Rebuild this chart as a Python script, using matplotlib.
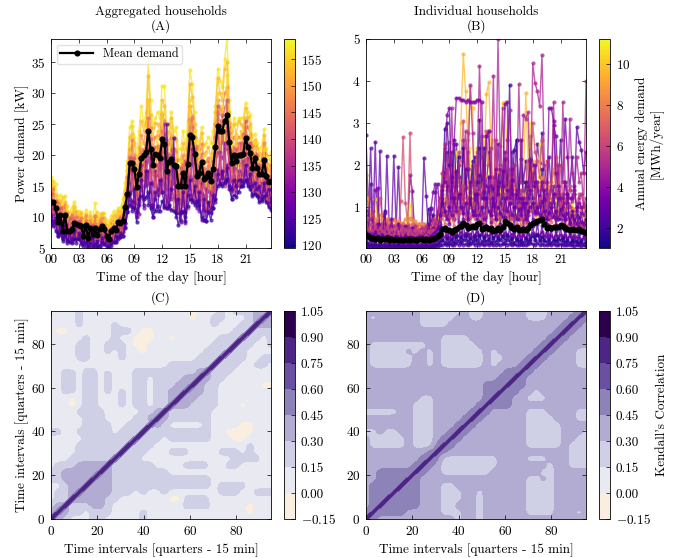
import numpy as np
import matplotlib
matplotlib.use('Agg')
import matplotlib.pyplot as plt
from matplotlib.cm import ScalarMappable
from matplotlib.colors import Normalize

plt.rcParams['font.family'] = ['cmr10', 'DejaVu Serif']
plt.rcParams['mathtext.fontset'] = 'cm'
plt.rcParams['axes.formatter.use_mathtext'] = True
plt.rcParams['axes.unicode_minus'] = False
plt.rcParams['font.size'] = 9.5

hour_labels = ['00', '03', '06', '09', '12', '15', '18', '21']

# panel A, one row = 3 hours
agg_mean = [12.5, 12.5, 11.5, 9.2, 10.4, 7.8, 10.4, 7.8, 7.7, 8.0, 9.1, 8.9,
            8.7, 8.6, 7.0, 8.7, 6.6, 8.2, 7.3, 8.2, 7.1, 8.0, 8.6, 8.0,
            7.0, 6.5, 7.8, 8.3, 7.9, 9.2, 9.0, 9.4, 11.7, 13.8, 18.8, 18.7,
            17.8, 14.9, 17.0, 19.6, 20.0, 20.5, 24.0, 21.0, 18.4, 20.2, 20.0, 19.6,
            22.6, 21.8, 17.5, 18.9, 19.4, 18.5, 18.2, 15.1, 15.1, 17.2, 15.1, 18.6,
            23.2, 22.9, 20.2, 16.7, 17.2, 18.9, 16.2, 16.5, 17.1, 15.8, 17.8, 21.4,
            24.7, 23.9, 23.9, 25.6, 26.5, 22.1, 18.8, 20.0, 19.0, 20.0, 20.1, 20.2,
            22.8, 21.4, 20.3, 18.0, 19.5, 18.0, 17.0, 17.0, 19.2, 16.7, 15.6, 15.8]
agg_157 = [16.5, 15.6, 15.4, 13.0, 13.6, 11.5, 13.4, 11.0, 10.8, 11.5, 12.5, 11.0,
           11.0, 10.8, 9.5, 11.2, 9.4, 10.8, 9.8, 12.2, 9.5, 10.5, 10.2, 10.6,
           9.5, 9.0, 10.2, 11.0, 10.4, 11.4, 11.5, 13.0, 15.5, 19.0, 24.5, 25.5,
           23.0, 20.0, 24.0, 28.0, 25.0, 27.0, 35.0, 29.0, 24.5, 26.0, 27.0, 26.0,
           31.2, 31.2, 24.0, 25.0, 27.0, 24.0, 24.5, 21.0, 21.0, 24.0, 21.0, 25.5,
           33.8, 31.5, 27.0, 22.5, 22.0, 24.5, 21.5, 22.0, 23.0, 22.0, 24.0, 28.0,
           34.0, 32.0, 31.0, 35.5, 38.9, 29.0, 24.0, 26.0, 25.0, 26.0, 26.0, 26.0,
           28.5, 27.0, 26.5, 23.0, 23.5, 22.0, 21.0, 21.5, 24.2, 21.0, 19.5, 20.5]
agg_155 = [14.8, 15.8, 12.0, 12.8, 10.4, 13.2, 9.0, 11.8, 8.8, 10.6, 11.8, 8.9,
           9.0, 10.0, 9.4, 8.6, 9.2, 7.4, 9.9, 8.0, 10.8, 7.8, 8.6, 9.3,
           7.6, 8.8, 7.4, 9.8, 8.2, 10.6, 9.0, 12.0, 13.0, 18.4, 19.0, 24.8,
           17.0, 18.0, 14.0, 22.0, 16.0, 22.8, 29.0, 18.0, 20.0, 17.5, 24.0, 17.0,
           27.0, 16.0, 21.0, 15.5, 24.5, 17.0, 20.0, 14.0, 19.0, 15.0, 18.0, 16.5,
           29.0, 19.0, 24.0, 15.0, 20.5, 16.0, 20.0, 14.5, 19.0, 14.0, 22.0, 18.5,
           30.0, 21.0, 28.0, 22.0, 33.0, 20.0, 22.0, 18.0, 23.0, 18.5, 24.0, 19.0,
           26.0, 18.0, 24.5, 17.0, 22.0, 16.0, 20.0, 15.5, 21.0, 15.0, 18.5, 14.5]
agg_153 = [15.2, 14.8, 13.6, 11.8, 12.6, 10.2, 12.4, 10.2, 10.0, 10.4, 11.6, 10.8,
           10.4, 10.6, 8.9, 10.5, 8.7, 10.2, 9.3, 10.4, 8.9, 9.8, 10.6, 9.9,
           8.8, 8.3, 9.6, 10.3, 9.6, 11.0, 10.8, 11.8, 14.2, 17.6, 23.0, 23.4,
           22.0, 18.2, 21.4, 25.5, 24.0, 25.4, 32.8, 26.5, 22.8, 25.2, 25.0, 24.0,
           29.0, 28.0, 22.0, 23.8, 26.0, 23.0, 22.5, 19.2, 19.5, 22.0, 19.0, 23.4,
           31.6, 29.5, 25.0, 21.0, 21.0, 23.6, 20.0, 20.6, 21.4, 19.6, 22.0, 27.0,
           32.5, 30.0, 29.0, 34.0, 35.0, 27.0, 22.8, 25.0, 23.5, 25.5, 25.0, 24.5,
           27.6, 26.2, 25.0, 22.0, 22.5, 21.2, 20.4, 20.0, 23.2, 20.0, 18.2, 19.2]
agg_148 = [14.0, 13.8, 12.6, 10.9, 11.8, 9.4, 11.9, 9.3, 9.1, 9.6, 10.8, 10.2,
           9.9, 9.8, 8.3, 10.1, 7.9, 9.5, 8.6, 9.7, 8.3, 9.3, 9.9, 9.2,
           8.1, 7.6, 8.9, 9.5, 8.9, 10.2, 10.2, 10.8, 13.2, 15.8, 21.0, 21.5,
           20.0, 16.8, 19.6, 23.2, 22.0, 24.0, 29.0, 24.4, 21.0, 23.0, 23.2, 22.8,
           26.6, 25.6, 20.4, 21.8, 23.2, 21.0, 20.6, 17.6, 17.8, 20.0, 17.4, 21.4,
           28.0, 26.4, 23.0, 19.4, 19.6, 21.8, 18.8, 19.0, 19.6, 18.2, 20.4, 25.0,
           29.0, 27.5, 27.0, 30.0, 31.0, 25.2, 21.2, 23.0, 21.8, 23.0, 23.0, 23.4,
           26.0, 24.6, 23.4, 20.4, 21.6, 20.0, 19.0, 19.0, 22.0, 18.8, 17.4, 17.8]
agg_146 = [12.0, 14.6, 10.0, 12.2, 8.4, 11.6, 8.0, 10.6, 7.4, 10.4, 8.4, 10.0,
           7.8, 9.8, 6.8, 9.4, 6.6, 9.0, 7.0, 10.2, 6.6, 9.0, 7.2, 8.8,
           6.6, 7.4, 6.6, 8.4, 7.4, 9.4, 8.0, 10.4, 10.2, 16.5, 16.0, 22.4,
           15.0, 16.5, 13.0, 20.5, 15.0, 20.5, 26.0, 15.5, 17.5, 15.0, 21.5, 15.5,
           24.0, 14.0, 22.5, 13.5, 19.0, 21.0, 13.5, 17.0, 12.5, 18.5, 12.0, 21.0,
           14.5, 26.0, 15.0, 21.5, 13.5, 17.0, 18.0, 12.5, 19.0, 12.5, 16.0, 14.5,
           27.0, 17.5, 25.0, 18.0, 24.0, 24.5, 16.5, 21.0, 15.5, 22.0, 16.0, 23.5,
           17.0, 23.0, 16.0, 21.5, 16.0, 20.0, 14.5, 19.5, 15.0, 18.0, 13.0, 18.5]
agg_143 = [13.2, 12.6, 11.8, 9.8, 11.0, 8.4, 10.9, 8.4, 8.3, 8.8, 9.9, 9.4,
           9.2, 9.2, 7.5, 9.3, 7.1, 8.8, 7.9, 8.9, 7.6, 8.6, 9.2, 8.6,
           7.5, 7.0, 8.3, 8.9, 8.4, 9.7, 9.5, 10.0, 12.2, 14.6, 19.8, 19.6,
           18.6, 15.8, 18.0, 21.0, 20.8, 21.6, 26.0, 22.6, 19.4, 21.4, 21.2, 20.8,
           24.6, 23.4, 18.6, 20.0, 21.0, 19.6, 19.2, 16.2, 16.2, 18.6, 16.0, 20.0,
           25.6, 24.6, 21.4, 17.8, 18.2, 20.2, 17.2, 17.6, 18.2, 16.8, 18.8, 23.0,
           26.6, 25.6, 25.2, 27.8, 28.6, 23.6, 19.8, 21.4, 20.2, 21.4, 21.4, 21.6,
           24.6, 22.8, 21.6, 19.2, 20.4, 18.8, 18.0, 18.0, 20.4, 17.6, 16.4, 16.8]
agg_141 = [13.8, 10.8, 12.6, 8.6, 11.4, 7.6, 9.4, 7.0, 9.8, 7.2, 9.4, 7.0,
           9.4, 6.8, 8.6, 6.4, 8.2, 6.2, 8.8, 6.6, 8.4, 6.4, 8.6, 6.4,
           7.8, 5.8, 8.0, 6.6, 8.2, 7.4, 9.8, 7.8, 11.0, 12.5, 19.5, 14.5,
           19.5, 12.5, 17.0, 14.5, 19.5, 15.5, 23.0, 14.0, 21.0, 13.5, 18.5, 14.0,
           20.5, 11.5, 19.0, 12.0, 20.0, 11.5, 18.5, 11.0, 18.0, 12.0, 19.0, 11.5,
           22.0, 13.0, 21.0, 12.0, 18.5, 12.5, 17.0, 11.5, 16.5, 11.0, 19.0, 13.0,
           28.0, 15.5, 26.5, 15.0, 29.0, 16.0, 20.5, 14.5, 21.0, 15.0, 22.0, 15.5,
           25.5, 15.5, 22.0, 14.5, 20.0, 14.0, 18.5, 13.5, 18.0, 12.8, 16.5, 11.5]
agg_139 = [12.0, 11.4, 10.6, 8.7, 9.9, 7.4, 9.9, 7.4, 7.2, 7.6, 8.6, 8.4,
           8.3, 8.1, 6.6, 8.2, 6.2, 7.8, 6.9, 7.8, 6.7, 7.6, 8.2, 7.6,
           6.6, 6.1, 7.4, 7.9, 7.5, 8.8, 8.5, 8.9, 10.8, 12.6, 17.4, 17.2,
           16.4, 13.6, 15.6, 18.2, 18.4, 18.8, 22.0, 19.4, 17.0, 18.6, 18.4, 18.0,
           20.8, 20.2, 16.2, 17.4, 17.6, 17.0, 16.8, 13.8, 13.6, 15.8, 13.6, 17.0,
           21.6, 21.0, 18.8, 15.4, 15.6, 17.4, 14.8, 15.0, 15.6, 14.4, 16.4, 19.8,
           23.0, 22.0, 22.2, 23.8, 24.6, 20.4, 17.4, 18.4, 17.6, 18.6, 18.6, 18.6,
           21.0, 19.8, 18.8, 16.6, 18.0, 16.6, 15.6, 15.6, 17.8, 15.4, 14.4, 14.4]
agg_134 = [11.2, 10.6, 9.6, 8.0, 9.0, 7.0, 9.1, 6.9, 6.7, 7.1, 8.0, 7.7,
           7.6, 7.4, 6.0, 7.4, 5.8, 7.2, 6.4, 7.1, 6.1, 7.0, 7.6, 7.0,
           6.2, 5.6, 6.8, 7.3, 6.9, 8.0, 7.8, 8.3, 9.8, 11.6, 15.6, 14.6,
           14.2, 12.2, 14.0, 16.4, 16.8, 17.0, 20.0, 17.4, 15.2, 16.6, 16.8, 16.4,
           18.8, 25.0, 14.6, 15.8, 22.8, 15.4, 15.0, 12.6, 12.2, 14.4, 12.4, 15.4,
           25.8, 19.0, 16.8, 14.0, 14.2, 15.6, 13.4, 13.4, 14.2, 13.0, 14.8, 18.0,
           20.6, 19.8, 19.6, 21.0, 22.0, 18.2, 15.8, 16.6, 15.8, 16.8, 17.0, 17.0,
           19.4, 18.0, 17.0, 15.2, 16.0, 15.0, 14.2, 14.2, 16.0, 14.0, 13.0, 13.0]
agg_131 = [8.8, 12.0, 9.0, 10.0, 7.6, 9.4, 7.0, 8.8, 6.6, 8.4, 6.4, 8.0,
           6.4, 8.0, 5.8, 8.0, 5.6, 7.8, 5.4, 7.6, 5.2, 7.2, 5.6, 7.0,
           5.8, 6.6, 5.4, 7.4, 6.0, 8.2, 6.8, 8.6, 9.0, 13.4, 12.5, 18.0,
           12.0, 15.0, 10.5, 18.5, 11.5, 19.0, 15.5, 19.5, 12.0, 17.5, 13.5, 20.5,
           14.0, 19.5, 11.5, 17.0, 13.0, 18.0, 11.0, 15.5, 9.5, 15.5, 9.0, 16.5,
           13.5, 21.0, 12.5, 17.5, 11.0, 15.5, 9.6, 14.5, 11.0, 14.0, 11.5, 17.0,
           16.0, 20.5, 15.5, 22.0, 16.0, 21.0, 13.0, 18.0, 14.0, 17.5, 15.0, 19.0,
           16.0, 19.5, 15.0, 17.5, 14.0, 16.5, 13.0, 15.5, 14.5, 16.0, 12.0, 14.5]
agg_128 = [10.2, 9.6, 8.8, 7.2, 8.2, 6.4, 8.2, 6.4, 6.2, 6.5, 7.4, 7.0,
           7.0, 6.8, 5.6, 6.9, 5.4, 6.6, 5.9, 6.6, 5.7, 6.4, 7.0, 6.4,
           5.7, 5.3, 6.2, 6.7, 6.4, 7.4, 7.2, 7.6, 9.0, 10.8, 13.8, 12.6,
           12.4, 10.8, 12.4, 14.4, 15.0, 15.2, 17.4, 12.0, 11.4, 13.0, 14.6, 14.0,
           16.0, 15.4, 12.4, 13.6, 14.6, 13.2, 12.8, 10.6, 10.6, 12.6, 10.8, 13.4,
           16.6, 16.2, 14.4, 12.6, 12.8, 13.8, 11.2, 11.2, 12.2, 11.6, 13.0, 15.4,
           17.6, 17.2, 16.4, 17.6, 18.4, 16.0, 14.2, 15.0, 14.4, 15.2, 15.6, 15.6,
           17.4, 16.2, 15.4, 13.8, 14.6, 13.6, 13.2, 13.0, 14.4, 13.0, 12.2, 11.8]
agg_125 = [10.4, 8.6, 9.8, 7.0, 8.6, 6.6, 8.6, 5.8, 7.6, 5.8, 7.8, 5.8,
           7.4, 5.6, 6.8, 5.4, 6.8, 5.2, 6.8, 5.4, 6.2, 5.2, 6.6, 5.6,
           6.4, 5.4, 6.2, 6.0, 7.0, 6.4, 7.4, 7.0, 8.4, 11.0, 14.0, 11.0,
           14.5, 10.0, 12.0, 16.0, 12.0, 17.5, 12.0, 15.5, 10.0, 14.0, 11.0, 16.0,
           14.0, 12.0, 25.0, 11.5, 14.5, 22.8, 10.0, 13.0, 9.2, 14.0, 10.0, 13.5,
           16.0, 12.5, 15.0, 11.5, 14.0, 9.5, 13.0, 9.4, 12.5, 10.6, 13.5, 12.5,
           17.0, 15.5, 17.5, 15.5, 18.0, 15.0, 14.5, 16.0, 15.0, 16.0, 16.0, 15.5,
           18.5, 15.5, 17.0, 15.0, 15.5, 14.5, 15.0, 13.0, 15.5, 13.5, 14.5, 12.5]
agg_122 = [9.4, 9.0, 7.8, 7.0, 7.4, 6.2, 7.2, 6.2, 6.0, 6.0, 6.4, 6.4,
           6.4, 6.0, 5.4, 6.0, 5.2, 5.8, 5.4, 5.6, 5.2, 5.4, 6.0, 5.6,
           5.2, 5.0, 5.6, 5.9, 6.0, 6.8, 6.8, 7.0, 8.2, 10.8, 12.0, 11.6,
           11.4, 9.2, 13.0, 13.4, 13.0, 13.2, 14.0, 11.4, 10.0, 11.0, 11.8, 11.0,
           12.6, 11.6, 11.4, 12.0, 11.2, 11.0, 10.6, 8.7, 10.8, 11.0, 9.4, 11.8,
           13.0, 12.8, 12.0, 12.6, 12.0, 10.0, 9.5, 9.4, 10.8, 9.6, 11.4, 13.0,
           15.0, 15.4, 15.0, 15.6, 16.2, 14.6, 13.0, 13.6, 13.2, 14.0, 15.0, 15.0,
           16.0, 15.0, 14.6, 13.4, 13.8, 13.4, 12.4, 12.6, 13.4, 12.4, 11.6, 11.2]
agg_values = [agg_157, agg_153, agg_148, agg_143, agg_139, agg_128, agg_134,
              agg_155, agg_146, agg_131, agg_141, agg_122, agg_125]
agg_energy = [157, 153, 148, 143, 139, 128, 134, 155, 146, 131, 141, 122, 125]

# panel B, one row = 3 hours
ind_mean = [.32, .30, .27, .26, .24, .26, .22, .24, .23, .25, .22, .24,
            .21, .23, .20, .22, .21, .22, .23, .21, .24, .22, .21, .23,
            .24, .22, .23, .22, .24, .23, .26, .30, .36, .48, .50, .46,
            .44, .40, .44, .48, .52, .55, .62, .56, .50, .52, .55, .53,
            .58, .62, .48, .50, .52, .48, .50, .42, .44, .50, .46, .52,
            .66, .62, .56, .50, .48, .52, .44, .46, .48, .44, .50, .56,
            .62, .64, .66, .68, .70, .60, .50, .52, .50, .52, .52, .53,
            .56, .54, .50, .48, .46, .48, .44, .44, .48, .42, .40, .38]
ind_plateau = [.50, .40, .30, .30, 1.40, 1.45, .40, .30, .30, .25, .30, .40,
               .30, .30, .30, .25, .30, .30, .20, .30, .30, .20, .30, .30,
               .30, .40, .30, .30, .95, 1.35, 1.55, .50, .60, 1.50, 1.60, 3.20,
               3.35, 1.20, 2.50, 3.60, 3.60, 3.55, 3.55, 3.50, 3.55, 3.50, 3.50, 3.50,
               3.55, 3.55, 3.50, 1.20, 2.70, 2.80, 1.50, 1.00, 1.90, 1.30, 1.90, 1.50,
               3.45, 3.50, 1.20, 1.90, 1.00, 1.40, 1.20, .90, 1.20, .80, 1.50, 2.10,
               1.50, 2.00, 1.40, 1.10, 1.60, 1.20, .90, 3.35, 3.35, 3.05, 1.80, 1.50,
               1.20, 1.00, 1.60, 1.30, 1.20, 1.20, 1.50, .90, 1.10, 1.00, .80, .90]
ind_peak = [.60, .50, .40, .50, .40, .50, .60, .40, .50, .40, .30, .50,
            .40, .40, .50, .40, .40, .50, .40, .30, .40, .40, .30, .40,
            .30, .40, .30, .40, .30, .50, .60, .90, 1.20, 1.80, 2.50, 1.60,
            1.00, 3.35, 1.50, 1.00, 2.00, 1.40, 1.20, 2.80, 1.90, 3.90, 2.75, 1.20,
            2.00, 4.36, 2.20, 1.40, 2.70, 2.80, 1.50, 4.13, 1.30, 5.00, 2.00, 3.35,
            1.50, 2.60, 3.30, 1.40, 2.00, 1.20, 3.92, 1.60, 3.20, 3.10, 3.25, 1.30,
            4.42, 3.95, 3.75, 3.40, 4.62, 2.00, 1.60, 1.10, 1.40, 3.50, 1.30, 2.00,
            1.00, 3.50, 1.50, 1.20, 3.10, 1.80, 1.40, 2.20, 1.60, 1.80, 1.00, 4.00]
ind_night = [2.72, .80, 2.40, .50, 2.55, .40, 2.32, .50, .30, 2.22, .60, .40,
             2.22, .50, 1.95, .30, .40, .30, .50, 1.75, 1.38, .40, .30, .30,
             .20, 2.17, 1.27, .40, .98, .60, 1.35, 1.55, .50, 1.20, 1.80, 2.30,
             1.40, 2.30, 1.20, 2.50, 1.70, 1.10, 2.60, 1.60, 2.30, 1.00, 1.60, 2.20,
             1.10, 2.40, 1.30, 2.00, 1.50, 2.30, 1.20, 1.70, 1.00, 2.50, 1.60, 1.20,
             2.30, 1.60, 1.10, 2.30, 1.50, 2.60, 1.30, 2.15, 1.60, 2.10, 1.20, 2.70,
             2.00, 1.50, 2.50, 2.05, 2.75, 1.60, 1.30, 2.20, 1.40, 2.95, 2.70, 1.50,
             2.60, 1.60, 3.10, 2.20, 1.40, 2.20, 1.30, 2.90, 2.55, 2.35, 1.80, 2.30]
ind_navy = [.30, .25, .20, .18, .20, .30, .20, .25, .90, .40, .30, .25,
            .20, .30, .25, .20, .25, .35, .20, .25, .30, .20, .25, .30,
            .20, .40, .30, .95, .60, .80, .50, .30, .40, .85, 2.85, 3.00,
            2.00, 1.60, 2.60, 1.50, 2.20, 1.00, 2.40, 1.50, 1.90, 1.10, 2.10, .90,
            1.60, 3.08, 1.20, 2.40, 1.00, 1.70, .80, 1.45, .70, 1.80, 1.10, .95,
            2.15, 1.30, 3.90, 1.30, 2.35, 2.60, 1.10, 2.60, 1.00, 1.60, .80, 2.15,
            1.20, .90, 1.60, 1.00, 1.90, .80, 1.30, .70, 1.00, 1.50, .70, 1.30,
            .90, 1.20, .70, 1.10, .60, .90, .60, .80, .50, .60, .50, .60]
ind_red = [1.75, 1.20, .70, .90, .60, .70, 1.20, .80, .60, .70, .50, .60,
           .70, .60, .50, 1.15, 2.67, 1.10, .60, 2.77, .70, .60, .50, .60,
           .50, .60, .55, .50, .70, .60, .50, .80, 1.20, 1.50, 2.40, 1.40,
           2.55, 1.10, 1.80, 1.30, 2.30, 2.10, 3.05, 1.60, 2.75, 1.50, 2.00, 1.20,
           2.30, 1.60, 2.70, 1.20, 2.80, 2.00, 2.40, 1.20, 2.60, 1.50, 2.45, 1.80,
           2.20, 1.50, 1.90, 1.30, 2.00, 1.40, 1.60, 1.80, 1.30, 1.50, 2.10, 1.70,
           3.00, 2.30, 2.10, 1.70, 2.60, 1.40, 2.10, 1.20, 1.60, 1.80, 2.20, 1.50,
           2.00, 1.30, 1.60, 1.10, 1.50, 1.20, 1.40, 1.00, 1.30, .90, 1.10, .90]
ind_orange = [1.22, 1.20, .80, .75, .70, .72, .80, .72, .65, .70, .62, .66,
              .68, .60, .66, .62, .62, .70, .66, .74, .68, .66, .60, .58,
              .62, .56, .54, .52, .60, .56, .74, .80, 1.20, 1.45, 1.10, .70,
              .80, .90, 1.10, 1.55, 1.30, 1.20, 1.40, 1.25, 1.60, 1.30, 1.10, 1.45,
              1.20, 1.30, 1.40, 1.60, 1.75, 1.55, 1.30, 1.20, 1.50, 1.85, 1.80, 1.60,
              1.45, 1.30, 1.60, 1.70, 1.45, 1.30, 1.20, 1.10, 1.30, 1.05, 1.40, 1.80,
              1.90, 1.55, 1.35, 1.50, 1.70, 1.40, 1.20, 1.35, 1.50, 1.90, 1.40, 1.20,
              1.30, 1.15, 1.10, 1.05, 1.00, .98, .95, .98, 1.00, .95, .98, .95]
ind_yellow = [.50, .46, .72, .80, 1.18, .62, .55, .50, .60, .55, .50, .46,
              .48, .50, .46, .42, .50, .46, .80, 1.05, .60, .52, .48, .46,
              .44, .48, .42, .50, .55, .60, .80, .70, .90, 1.75, 1.50, 1.20,
              .90, .75, 1.60, 2.30, 2.05, .85, 1.80, 1.20, 1.00, 2.40, .80, 1.70,
              .75, .90, 1.55, 1.20, 2.40, 2.10, .80, 1.00, .70, .65, 1.35, .70,
              1.50, .60, .70, 1.55, .80, .55, .75, .60, .80, .70, 2.45, 3.00,
              1.10, .90, .70, 2.50, .65, 1.50, 1.20, 1.55, .90, 1.10, .85, 1.60,
              1.00, .80, 1.20, 1.10, .75, 1.10, .85, .80, .75, .85, .75, .80]
ind_gold = [.55, .50, .45, .50, .45, .40, .42, .40, .38, .36, .40, .36,
            .38, .36, .35, .34, .36, .35, .38, .36, .40, .36, .35, .33,
            .36, .32, .34, .36, .40, .42, .50, .60, .70, 1.20, 1.70, 1.20,
            1.00, 1.50, 1.30, 1.10, 2.00, 3.00, 4.65, 3.75, 2.60, 3.85, 3.35, 1.50,
            2.40, 1.30, 1.70, 2.10, 3.68, 3.97, 2.40, 2.60, 1.30, 1.60, 1.20, 3.48,
            3.50, 2.10, 1.30, 1.50, 1.70, 1.20, 1.40, 1.00, 1.60, 3.72, 2.00, 1.30,
            2.10, 1.50, 1.00, 1.40, 1.70, 1.10, .90, 1.20, 1.00, 1.30, .90, .85,
            1.10, .80, .90, 1.10, .80, .70, .90, .80, .70, .60, .70, .65]
ind_magenta = [.70, .60, .70, .50, .55, .60, .50, .45, .60, .50, .55, .50,
               .55, .45, .50, .55, .45, .50, .55, .45, .50, .55, .40, .45,
               .50, .45, .55, .40, .45, .70, .60, .85, 1.00, 1.30, 1.60, 1.90,
               1.40, 1.10, 1.30, 1.60, 1.20, 1.50, 1.20, 1.45, 1.10, 1.35, 1.60, 1.20,
               1.40, 1.00, 1.30, 1.60, 1.10, 1.40, 1.20, .90, 1.25, 1.50, 1.10, 1.30,
               1.60, 1.20, 1.40, 1.10, 1.30, 1.00, 1.20, 1.40, .95, 1.20, 1.40, 1.60,
               1.80, 1.40, 1.60, 1.20, 1.50, 1.30, 1.10, 1.30, 1.50, 1.10, 1.25, 1.40,
               1.05, 1.30, 1.10, 1.25, 1.00, 1.15, 1.30, 1.00, 1.20, 1.30, 1.05, 1.20]
ind_pink = [.70, .45, .60, .40, .55, .38, .50, .42, .36, .52, .38, .48,
            .34, .50, .36, .46, .32, .48, .36, .44, .34, .46, .30, .44,
            .32, .44, .30, .42, .34, .46, .40, .62, .70, .95, .80, 1.15,
            .75, 1.05, .70, 1.30, .85, .95, 1.50, .80, 1.20, .75, .95, 1.10,
            .80, 1.35, .70, 1.10, .85, 1.25, .70, .95, .80, 1.20, .75, 1.00,
            1.30, .85, 1.15, .70, .95, .75, 1.05, .70, .90, .65, 1.00, 1.15,
            .95, 1.40, 1.00, 1.20, .95, .80, 1.10, .75, 1.00, .80, .95, .75,
            1.10, .80, .95, .70, .85, .70, .80, .60, .75, .55, .65, .50]
ind_salmon = [.62, .70, .55, .62, .50, .66, .48, .60, .52, .66, .50, .60,
              .55, .48, .60, .44, .58, .42, .56, .46, .60, .44, .55, .42,
              .52, .40, .50, .38, .48, .42, .55, .50, .70, .80, .60, .90,
              .65, .75, .55, .85, .60, .95, 1.15, .70, .85, .60, .80, .70,
              .95, .65, .85, .60, .75, .90, .60, .70, .55, .85, .60, .80,
              1.00, .75, .85, .55, .70, .60, .75, .55, .70, .50, .80, .90,
              1.05, .80, 1.00, .75, .85, .70, .60, .75, .65, .80, .60, .70,
              .85, .65, .70, .55, .65, .55, .60, .50, .60, .45, .55, .45]
ind_violet = [.90, .30, 1.55, .25, .35, .60, .25, .30, .85, .30, .25, .70,
              .30, .25, .60, .25, .30, .55, .20, .30, .50, .25, .20, .30,
              .25, .45, .20, .60, .30, .50, .30, .45, .55, 1.40, .80, 1.50,
              .60, 1.70, .70, 1.85, .65, 1.30, .70, 1.90, .55, 1.60, .80, 1.30,
              .70, 1.75, .60, 1.35, .55, 1.70, .65, 1.20, .80, 1.50, .60, 1.85,
              .75, 1.40, .60, 1.65, .55, 1.30, .70, 1.20, .50, 1.10, .65, 1.40,
              .70, 1.60, .85, 1.25, .70, 1.40, .60, 1.10, .75, 1.30, .55, 1.20,
              .70, 1.10, .55, 1.30, .60, .90, .50, 1.00, .55, .85, .45, .70]
ind_purple = [.40, .30, .36, .28, .40, .30, .26, .34, .24, .30, .22, .28,
              .24, .30, .20, .26, .22, .30, .22, .28, .24, .20, .28, .24,
              .30, .22, .26, .24, .30, .36, .40, .50, .80, 1.10, .90, .70,
              1.00, .80, 1.20, .90, 1.30, 1.00, .85, 1.10, .70, 1.20, .90, .80,
              1.30, .80, 1.00, .70, 1.20, .90, .80, 1.10, .70, 1.00, .85, .75,
              1.20, .90, 1.10, .80, 1.00, .70, .95, .80, 1.10, .70, .90, 1.00,
              1.10, .85, 1.00, .80, 1.15, .90, .70, .85, 1.00, .75, .90, .70,
              .95, .80, .70, .85, .65, .80, .70, .60, .75, .65, .60, .70]
ind_low = [.18, .14, .12, .10, .14, .10, .12, .08, .12, .10, .08, .12,
           .10, .08, .10, .12, .08, .10, .12, .08, .10, .12, .08, .10,
           .12, .08, .10, .12, .10, .14, .12, .18, .24, .30, .28, .34,
           .26, .32, .28, .36, .30, .40, .32, .38, .30, .36, .28, .34,
           .40, .30, .36, .28, .34, .30, .38, .26, .32, .28, .36, .30,
           .38, .32, .28, .36, .30, .26, .34, .28, .32, .26, .36, .30,
           .38, .32, .36, .30, .40, .32, .28, .34, .30, .26, .32, .28,
           .34, .28, .32, .26, .30, .28, .24, .28, .26, .22, .26, .22]
ind_low2 = [.25, .10, .20, .08, .18, .06, .16, .07, .14, .06, .18, .08,
            .16, .06, .14, .06, .16, .05, .14, .07, .15, .05, .14, .06,
            .15, .06, .14, .05, .16, .08, .20, .12, .30, .20, .50, .15,
            .45, .14, .40, .18, .55, .16, .60, .20, .48, .14, .50, .20,
            .55, .15, .42, .18, .52, .14, .46, .16, .40, .20, .50, .15,
            .60, .20, .50, .15, .40, .18, .45, .12, .38, .16, .50, .18,
            .55, .20, .60, .22, .55, .18, .40, .15, .45, .18, .42, .14,
            .50, .16, .42, .14, .38, .15, .32, .12, .35, .12, .30, .10]
ind_floor = [.06, .04, .05, .03, .04, .05, .03, .04, .03, .05, .03, .04,
             .03, .04, .05, .03, .04, .03, .05, .04, .03, .04, .05, .03,
             .04, .03, .05, .04, .03, .05, .04, .06, .08, .10, .12, .09,
             .12, .08, .10, .13, .09, .14, .10, .12, .08, .11, .14, .09,
             .13, .10, .12, .08, .11, .09, .13, .08, .10, .12, .09, .11,
             .14, .10, .12, .09, .11, .08, .10, .12, .09, .08, .11, .13,
             .12, .10, .14, .09, .12, .10, .08, .11, .09, .12, .10, .08,
             .11, .09, .10, .08, .10, .09, .07, .09, .08, .07, .08, .06]
ind_floor2 = [.14, .06, .10, .05, .09, .04, .08, .05, .07, .04, .08, .05,
              .07, .04, .09, .05, .06, .04, .08, .05, .06, .04, .07, .05,
              .06, .04, .08, .05, .07, .04, .09, .10, .16, .22, .14, .26,
              .16, .24, .14, .30, .18, .28, .20, .32, .16, .26, .18, .30,
              .20, .34, .16, .28, .18, .24, .14, .28, .16, .26, .20, .30,
              .22, .32, .18, .26, .14, .24, .16, .22, .14, .26, .18, .24,
              .30, .22, .34, .18, .28, .20, .16, .24, .14, .22, .18, .24,
              .20, .26, .16, .22, .14, .20, .16, .18, .14, .18, .12, .16]
ind_values = [ind_gold, ind_night, ind_yellow, ind_red, ind_navy, ind_orange, ind_salmon,
              ind_magenta, ind_peak, ind_plateau, ind_violet, ind_pink, ind_purple,
              ind_low2, ind_low, ind_floor2, ind_floor]
ind_energy = [9.6, 2.9, 10.9, 6.4, 1.8, 8.4, 7.2, 5.2, 4.9, 3.7, 3.2, 6.0, 3.0, 2.6, 3.4, 1.5, 2.2]

# Kendall correlation, lower triangle in hundredths, grid step about 3 intervals
corr_c = [[38],
          [38, 38],
          [22, 38, 38],
          [8, 22, 22, 38],
          [8, 22, 22, 38, 38],
          [8, 8, 22, 38, 38, 38],
          [22, 22, 38, 38, 38, 38, 38],
          [22, 22, 38, 38, 38, 38, 38, 38],
          [8, 22, 22, 22, 38, 38, 38, 38, 38],
          [8, 8, 8, 22, 22, 22, 22, 22, 22, 38],
          [8, 8, 8, 8, 22, 22, 22, 22, 22, 22, 38],
          [8, 8, 8, 8, 22, 22, 22, 22, 22, 22, 22, 38],
          [8, 8, 8, 8, 8, 22, 22, 22, 22, 22, 22, 22, 38],
          [22, 22, 8, 8, 22, 22, 22, 22, 22, 8, 22, 22, 22, 22],
          [8, 8, 8, 8, 8, 22, 22, 22, 22, 8, 8, 22, 22, 22, 22],
          [8, 8, 8, 8, 8, 22, 22, 22, 8, 8, 8, 8, 22, 22, 38, 38],
          [8, 8, 8, 8, 22, 22, 22, 22, 8, 8, 8, 8, 8, 22, 22, 38, 38],
          [8, 8, 8, -10, 8, 22, 22, 8, 8, 8, 22, 8, 22, 22, 8, 22, 22, 38],
          [8, 8, 8, -10, 8, 22, 22, 8, 8, 8, 22, 8, 22, 22, 8, 22, 22, 38, 38],
          [8, 8, 22, 22, 8, 22, 22, 8, 22, 8, 22, 8, 22, 22, 8, 22, 22, 38, 38, 38],
          [8, 8, 22, 22, 8, 22, 22, 8, 22, 8, 8, 8, 22, 22, 8, 22, 22, 22, 38, 38, 38],
          [8, 8, 22, 22, 8, 22, 22, 8, 22, 8, 8, 8, 22, 22, 8, 22, 22, 22, 22, 38, 38, 38],
          [8, 8, 22, 22, 8, 22, 22, 8, 22, 8, 8, 8, 22, 22, 22, 22, 22, 22, 22, 22, 22, 38, 38],
          [8, 8, 8, -10, 8, 8, 8, 8, -10, 8, 8, 8, 8, 8, 8, 8, 8, 22, 22, 22, 22, 22, 22, 38],
          [8, 8, 8, 8, 22, 22, 8, 8, 8, 8, 22, 8, 8, 8, 8, 8, 8, 8, 8, 8, 8, 22, 22, 22, 38],
          [8, 8, 8, 8, 22, 22, 8, 8, 22, 8, 22, 8, 8, -10, 8, 8, 8, 8, 8, 8, 8, 8, 22, 22, 22, 38],
          [8, 8, 8, 8, 22, 22, 8, 8, 22, 22, 22, 8, -10, -10, 8, 8, 8, 8, 8, 8, 8, 8, 8, 22, 22, 22, 38],
          [8, 8, 8, 8, 8, 22, 8, 8, 8, 22, 8, 8, -10, -10, -10, 8, 8, -10, 8, 8, 8, 8, 8, 8, 22, 22, 22, 38],
          [8, -10, -10, 8, 8, 8, 8, 8, 8, 22, 22, 22, 8, -10, -10, 8, 8, 8, 8, 8, 8, 8, 8, 8, 8, 8, 22, 22, 38],
          [8, 8, 8, 8, 22, 8, 8, 8, 8, 22, 8, 8, 8, 8, 8, 8, 8, 8, 8, 8, 8, 8, 8, 22, 8, 8, 8, 22, 22, 38],
          [8, 8, 8, 8, 22, 8, 8, 8, 8, 8, 8, 8, 8, 8, 8, 8, 8, 8, 8, 8, -10, 8, 8, 22, 22, 8, 8, 8, 22, 38, 38],
          [8, 8, 8, 8, 22, 8, 8, 8, 8, 8, 8, 8, 8, 8, 8, 8, 8, 8, 8, 8, -10, 8, 8, 8, 22, 8, 22, 22, 22, 38, 38, 38]]
corr_d = [[52],
          [52, 52],
          [38, 52, 52],
          [38, 52, 52, 52],
          [38, 52, 52, 52, 52],
          [38, 52, 52, 52, 52, 52],
          [38, 38, 52, 52, 52, 52, 52],
          [38, 38, 52, 52, 52, 52, 52, 52],
          [38, 38, 38, 38, 38, 38, 38, 52, 52],
          [38, 38, 38, 38, 38, 38, 38, 38, 52, 52],
          [38, 38, 38, 38, 38, 38, 38, 38, 38, 52, 52],
          [38, 22, 22, 22, 22, 22, 38, 22, 22, 22, 52, 52],
          [38, 22, 22, 22, 22, 22, 38, 22, 22, 22, 38, 52, 52],
          [22, 22, 38, 22, 22, 38, 38, 22, 22, 22, 38, 38, 52, 52],
          [38, 38, 38, 38, 38, 38, 38, 22, 22, 22, 38, 38, 38, 52, 52],
          [38, 38, 38, 38, 38, 38, 38, 22, 22, 22, 38, 38, 38, 38, 52, 52],
          [22, 22, 22, 22, 22, 38, 38, 22, 22, 22, 38, 38, 38, 38, 38, 52, 52],
          [38, 38, 38, 38, 38, 38, 38, 22, 22, 22, 38, 38, 38, 38, 38, 38, 52, 52],
          [38, 38, 38, 38, 38, 38, 38, 38, 22, 22, 38, 38, 38, 38, 38, 38, 38, 52, 52],
          [38, 38, 38, 38, 38, 38, 38, 38, 38, 38, 38, 38, 38, 38, 38, 38, 38, 52, 52, 52],
          [38, 38, 38, 38, 38, 38, 38, 38, 38, 38, 38, 38, 38, 38, 38, 38, 38, 52, 52, 52, 52],
          [38, 38, 38, 38, 38, 38, 38, 38, 38, 38, 38, 38, 38, 38, 38, 38, 38, 38, 38, 52, 52, 52],
          [38, 38, 38, 38, 38, 38, 38, 38, 38, 38, 38, 38, 38, 38, 38, 38, 38, 38, 38, 38, 52, 52, 52],
          [38, 22, 22, 22, 22, 22, 22, 38, 38, 22, 38, 22, 22, 22, 22, 22, 22, 38, 22, 38, 38, 38, 52, 52],
          [38, 22, 22, 22, 22, 22, 22, 38, 38, 22, 38, 22, 22, 22, 22, 22, 22, 38, 22, 22, 38, 38, 38, 52, 52],
          [38, 22, 22, 22, 22, 22, 38, 22, 38, 22, 38, 22, 22, 22, 22, 22, 22, 38, 22, 38, 38, 38, 38, 38, 52, 52],
          [38, 22, 22, 22, 22, 22, 22, 22, 22, 38, 38, 22, 22, 22, 22, 22, 38, 38, 38, 38, 38, 38, 38, 38, 38, 52, 52],
          [38, 38, 38, 38, 38, 38, 38, 38, 38, 38, 38, 22, 22, 22, 22, 38, 38, 38, 38, 38, 38, 38, 38, 38, 38, 38, 52, 52],
          [38, 38, 38, 38, 38, 38, 38, 38, 38, 38, 38, 38, 38, 38, 38, 38, 38, 38, 38, 38, 38, 38, 38, 38, 38, 38, 38, 52, 52],
          [38, 38, 38, 38, 38, 38, 38, 38, 22, 22, 22, 22, 38, 38, 38, 38, 38, 38, 38, 38, 38, 38, 38, 38, 38, 38, 38, 38, 52, 52],
          [38, 22, 38, 38, 38, 38, 38, 38, 22, 22, 22, 22, 22, 38, 38, 22, 22, 38, 38, 38, 38, 38, 38, 22, 22, 22, 38, 38, 38, 52, 52],
          [38, 38, 38, 38, 38, 38, 38, 38, 22, 22, 22, 22, 22, 22, 38, 22, 22, 38, 38, 38, 38, 38, 38, 22, 22, 22, 38, 38, 38, 38, 52, 52]]

# the ridge along the diagonal, against the lag in intervals
ridge_lags = [-6.0, -2.4, -1.5, -1.0, -0.6, -0.3, 0.0, 0.3, 0.6, 1.0, 1.5, 2.4, 6.0]
ridge_corr = [0.2, 0.3, 0.48, 0.62, 0.76, 0.82, 0.88, 0.82, 0.76, 0.62, 0.48, 0.3, 0.2]

corr_levels = [-0.15, 0.0, 0.15, 0.3, 0.45, 0.6, 0.75, 0.9, 1.05]
corr_labels = ['$-0.15$', '0.00', '0.15', '0.30', '0.45', '0.60', '0.75', '0.90', '1.05']
corr_colors = ['#faeee0', '#e9e9f2', '#cfd0e6', '#b2abd2', '#8d83b9', '#6b4fa0', '#4d2585', '#2d004b']


def full_matrix(rows):
    n = len(rows)
    m = np.zeros((n, n))
    for i, row in enumerate(rows):
        m[i, :len(row)] = row
        m[:len(row), i] = row
    return m / 100.0


def rounded(m, grid, fine):
    # contour corners of the coarse table are rounded before contourf
    a = np.array([np.interp(fine, grid, r) for r in m])
    a = np.array([np.interp(fine, grid, c) for c in a.T]).T
    a = np.pad(a, 1, mode='edge')
    out = np.zeros_like(a[1:-1, 1:-1])
    for i in range(3):
        for j in range(3):
            out += a[i:i + out.shape[0], j:j + out.shape[1]]
    return out / 9.0


def style_axes(ax):
    ax.tick_params(direction='in', top=True, right=True, length=3, width=0.5, pad=4)
    for s in ax.spines.values():
        s.set_linewidth(0.6)


def draw_lines(ax, series, energy, norm):
    x = np.arange(96)
    for y, e in zip(series, energy):
        ax.plot(x, y, '-o', color=plt.cm.plasma(norm(e)), lw=1.0, ms=3.0, mew=0, alpha=0.75)
    ax.set_xlim(0, 95)
    ax.set_xticks(np.arange(0, 96, 12))
    ax.set_xticklabels(hour_labels)
    ax.set_xlabel('Time of the day [hour]', labelpad=4)
    style_axes(ax)


def add_bar(fig, x0, y0, w, h, mappable):
    cax = fig.add_axes([x0 / 686, 1 - (y0 + h) / 558, w / 686, h / 558])
    cb = fig.colorbar(mappable, cax=cax)
    cb.ax.tick_params(direction='in', length=3, width=0.5, pad=4)
    cb.outline.set_linewidth(0.6)
    cb.minorticks_off()
    return cb


def draw_corr(ax, rows):
    grid = np.arange(32) * 95 / 31
    fine = np.arange(96.0)
    cs = ax.contourf(fine, fine, rounded(full_matrix(rows), grid, fine),
                     levels=corr_levels, colors=corr_colors)
    t = np.array([-5.0, 100.0])
    lags = np.array(ridge_lags)
    xx = t[:, None] + lags[None, :] / 2
    yy = t[:, None] - lags[None, :] / 2
    zz = np.array([ridge_corr, ridge_corr])
    ax.contourf(xx, yy, zz, levels=corr_levels[4:], colors=corr_colors[4:])
    ax.set_xlim(0, 95)
    ax.set_ylim(0, 95)
    ax.set_xticks(np.arange(0, 81, 20))
    ax.set_yticks(np.arange(0, 81, 20))
    ax.set_xlabel('Time intervals [quarters - 15 min]', labelpad=4)
    style_axes(ax)
    return cs


def make_axes(fig, x0, y0, w, h):
    return fig.add_axes([x0 / 686, 1 - (y0 + h) / 558, w / 686, h / 558])


fig = plt.figure(figsize=(6.86, 5.58), dpi=100)

axa = make_axes(fig, 51, 39, 220, 209)
norma = Normalize(119.5, 158.8)
draw_lines(axa, agg_values, agg_energy, norma)
axa.plot(np.arange(96), agg_mean, '-o', color='k', lw=1.6, ms=3.4, label='Mean demand')
axa.set_ylim(5, 38.8)
axa.set_yticks([5, 10, 15, 20, 25, 30, 35])
axa.set_ylabel('Power demand [kW]', labelpad=1)
axa.set_title('Aggregated households\n(A)', fontsize=9.5, pad=7, linespacing=1.1)
axa.legend(loc='upper left', fontsize=8.8, handlelength=2.7, borderaxespad=0.45,
           fancybox=True, framealpha=0.85, borderpad=0.3, edgecolor='#dddddd')
cba = add_bar(fig, 284, 39, 11, 209, ScalarMappable(norma, 'plasma'))
cba.set_ticks(np.arange(120, 156, 5))

axb = make_axes(fig, 366, 39, 220, 209)
normb = Normalize(1.03, 11.2)
draw_lines(axb, ind_values, ind_energy, normb)
axb.plot(np.arange(96), ind_mean, '-o', color='k', lw=1.6, ms=3.4)
axb.set_ylim(0.02, 5.0)
axb.set_yticks([1, 2, 3, 4, 5])
axb.set_title('Individual households\n(B)', fontsize=9.5, pad=7, linespacing=1.1)
cbb = add_bar(fig, 599, 39, 11, 209, ScalarMappable(normb, 'plasma'))
cbb.set_ticks([2, 4, 6, 8, 10])
cbb.set_label('Annual energy demand\n[MWh/year]', labelpad=4, linespacing=1.1)

axc = make_axes(fig, 51, 311, 220, 208)
csc = draw_corr(axc, corr_c)
axc.set_ylabel('Time intervals [quarters - 15 min]', labelpad=1)
axc.set_title('(C)', fontsize=9.5, pad=7)
cbc = add_bar(fig, 284, 311, 11, 208, csc)
cbc.set_ticks(corr_levels)
cbc.set_ticklabels(corr_labels)

axd = make_axes(fig, 366, 311, 220, 208)
csd = draw_corr(axd, corr_d)
axd.set_title('(D)', fontsize=9.5, pad=7)
cbd = add_bar(fig, 599, 311, 11, 208, csd)
cbd.set_ticks(corr_levels)
cbd.set_ticklabels(corr_labels)
cbd.set_label("Kendall's Correlation", labelpad=4)

fig.savefig('out.png', dpi=100)
